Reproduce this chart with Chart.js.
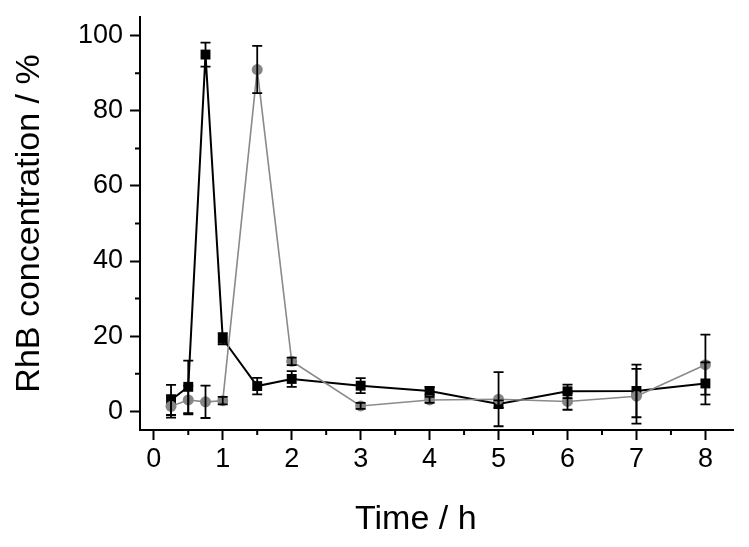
<!DOCTYPE html>
<html>
<head>
<meta charset="utf-8">
<script src="https://cdn.jsdelivr.net/npm/chart.js@4"></script>
<style>
  html, body { margin: 0; padding: 0; background: #fff; }
</style>
</head>
<body>
<canvas id="rhbChart" width="749" height="547"></canvas>
<script>
// values
var times = [0.25, 0.5, 0.75, 1, 1.5, 2, 3, 4, 5, 6, 7, 8];
var blackValues = [3, 6.5, 95, 19.3, 6.7, 8.6, 6.8, 5.4, 1.9, 5.3, 5.4, 7.4];
var blackErrors = [4, 7, 3.2, 1.5, 2.2, 2.1, 2, 1, 1, 1.8, 7, 5.6];
var grayValues = [1.3, 3, 2.5, 2.8, 91, 13.3, 1.4, 3, 3.2, 2.6, 4, 12.4];
var grayErrors = [3, 3.8, 4.3, 1, 6.3, 1, 0.8, 0.8, 7.2, 2.2, 7.3, 8];
var xTicks = [0, 1, 2, 3, 4, 5, 6, 7, 8];
var yTicks = [0, 20, 40, 60, 80, 100];

var fontFamily = "'Liberation Sans', Arial, sans-serif";

function toPoints(values) {
  return times.map(function (t, i) { return { x: t, y: values[i] }; });
}

// error bars, minor ticks and the x title, drawn with the chart's own scales
var errorBars = {
  id: "errorBars",
  afterDatasetsDraw: function (chart) {
    var ctx = chart.ctx;
    var x = chart.scales.x;
    var y = chart.scales.y;
    ctx.save();
    ctx.strokeStyle = "#000";
    ctx.lineWidth = 1.8;
    chart.data.datasets.forEach(function (ds) {
      ds.errors.forEach(function (e, i) {
        var px = x.getPixelForValue(ds.data[i].x);
        var top = y.getPixelForValue(ds.data[i].y + e);
        var bot = y.getPixelForValue(ds.data[i].y - e);
        ctx.beginPath();
        ctx.moveTo(px, top); ctx.lineTo(px, bot);
        ctx.moveTo(px - 5, top); ctx.lineTo(px + 5, top);
        ctx.moveTo(px - 5, bot); ctx.lineTo(px + 5, bot);
        ctx.stroke();
      });
    });

    // minor ticks
    ctx.lineWidth = 2;
    ctx.beginPath();
    for (var v = 0.5; v < 8.4; v += 1) {
      var px = x.getPixelForValue(v);
      ctx.moveTo(px, chart.chartArea.bottom);
      ctx.lineTo(px, chart.chartArea.bottom + 5);
    }
    for (var w = 10; w < 105; w += 20) {
      var py = y.getPixelForValue(w);
      ctx.moveTo(chart.chartArea.left, py);
      ctx.lineTo(chart.chartArea.left - 5, py);
    }
    ctx.stroke();

    // x axis title (sits a bit left of the plot centre in the original)
    ctx.fillStyle = "#000";
    ctx.font = "34px " + fontFamily;
    ctx.textAlign = "center";
    ctx.textBaseline = "middle";
    ctx.fillText("Time / h", x.getPixelForValue(3.8), 520);
    ctx.restore();
  }
};

var ctx_rhb = document.getElementById("rhbChart").getContext("2d");

var rhbChart = new Chart(ctx_rhb, {
  type: "scatter",
  data: {
    datasets: [
      {
        label: "gray",
        data: toPoints(grayValues),
        errors: grayErrors,
        showLine: true,
        borderColor: "#8a8a8a",
        backgroundColor: "#858585",
        borderWidth: 1.6,
        pointStyle: "circle",
        pointRadius: 5.5,
        pointBorderWidth: 0,
        pointBackgroundColor: "#858585",
      },
      {
        label: "black",
        data: toPoints(blackValues),
        errors: blackErrors,
        showLine: true,
        borderColor: "#000",
        backgroundColor: "#000",
        borderWidth: 2,
        pointStyle: "rect",
        pointRadius: 7,
        pointBorderWidth: 0,
        pointBackgroundColor: "#000",
      },
    ],
  },
  options: {
    responsive: false,
    animation: false,
    layout: { padding: { top: 17, right: 16, left: 0, bottom: 0 } },
    plugins: {
      legend: { display: false },
      tooltip: { enabled: false },
    },
    scales: {
      x: {
        type: "linear",
        min: -0.2,
        max: 8.4,
        afterBuildTicks: function (s) { s.ticks = xTicks.map(function (v) { return { value: v }; }); },
        afterFit: function (s) { s.height = 117; s.paddingLeft = 0; s.paddingRight = 0; },
        grid: { drawOnChartArea: false, tickLength: 10, tickColor: "#000", tickWidth: 2 },
        border: { color: "#000", width: 2 },
        ticks: {
          color: "#000",
          font: { family: fontFamily, size: 27 },
          padding: 3,
          maxRotation: 0,
          autoSkip: false,
        },
        title: { display: false },
      },
      y: {
        min: -5,
        max: 105,
        afterBuildTicks: function (s) { s.ticks = yTicks.map(function (v) { return { value: v }; }); },
        afterFit: function (s) { s.width = 140; s.paddingTop = 0; s.paddingBottom = 0; },
        grid: { drawOnChartArea: false, tickLength: 10, tickColor: "#000", tickWidth: 2 },
        border: { color: "#000", width: 2 },
        ticks: {
          color: "#000",
          font: { family: fontFamily, size: 27 },
          padding: 7,
          autoSkip: false,
        },
        title: {
          display: true,
          text: "RhB concentration / %",
          color: "#000",
          font: { family: fontFamily, size: 34 },
          padding: { top: 9, bottom: 0 },
        },
      },
    },
  },
  plugins: [errorBars],
});
</script>
</body>
</html>
